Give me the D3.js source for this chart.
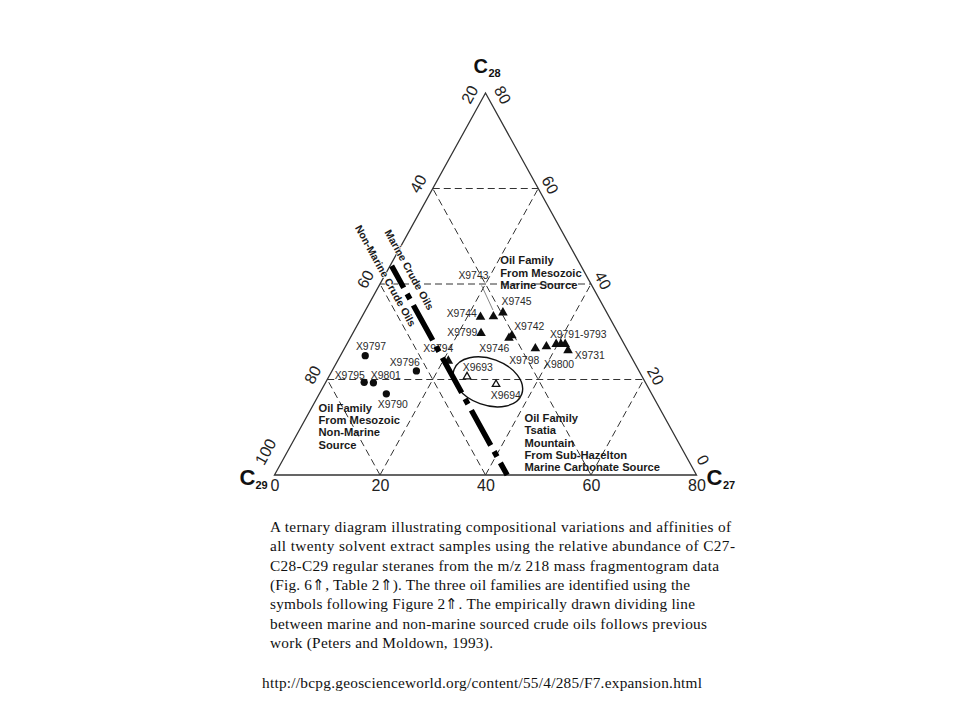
<!DOCTYPE html>
<html><head><meta charset="utf-8">
<script src="https://cdn.jsdelivr.net/npm/d3@7"></script>
<style>
html,body{margin:0;padding:0;background:#fff;}
svg{display:block;}
</style></head><body>
<svg id="chart" width="960" height="720"></svg>
<script>
// ---------------- data ----------------
const bottomTicks = [0, 20, 40, 60, 80];     // C27 %
const leftTicks   = [20, 40, 60, 80, 100];   // C29 %
const rightTicks  = [80, 60, 40, 20, 0];     // C28 %
const gridC27 = [20, 40, 60];
const gridC28 = [20, 40, 60];
const gridC29 = [40, 60, 80];

const sampleNames  = ["X9797","X9796","X9795","X9801","X9790",
                      "X9693","X9694",
                      "X9743","X9744","X9745","X9799","X9742","X9746","X9794",
                      "X9798","X9800","X9791","X9792","X9793","X9731"];
const sampleFamily = ["nonmarine","nonmarine","nonmarine","nonmarine","nonmarine",
                      "tsatia","tsatia",
                      "marine","marine","marine","marine","marine","marine","marine",
                      "marine","marine","marine","marine","marine","marine"];
const sampleC27 = [4.7, 16.0, 7.3, 9.1, 12.7,
                   26.2, 32.5,
                   24.9, 22.5, 26.3, 24.3, 30.4, 30.1, 21.0,
                   36.2, 38.1, 39.7, 40.6, 41.4, 42.6];
const sampleC28 = [25.0, 21.8, 19.4, 19.3, 17.0,
                   20.6, 19.0,
                   33.2, 33.1, 34.0, 29.7, 29.2, 28.7, 23.9,
                   26.5, 26.9, 27.4, 27.4, 27.4, 26.1];

const labelTexts  = ["X9797","X9796","X9795","X9801","X9790","X9693","X9694","X9743","X9744",
                     "X9745","X9799","X9742","X9746","X9794","X9798","X9800","X9791-9793","X9731"];
const labelSample = ["X9797","X9796","X9795","X9801","X9790","X9693","X9694","X9743","X9744",
                     "X9745","X9799","X9742","X9746","X9794","X9798","X9800","X9791","X9731"];

// dividing line between marine and non-marine crude oils (C27, C28)
const divC27 = [0.3, 44.1];
const divC28 = [43.8, 0];

// Tsatia ellipse centre (C27, C28)
const ellipseC27 = 30.7, ellipseC28 = 19.5;

const familyTitles = {
  marine: ["Oil Family", "From Mesozoic", "Marine Source"],
  nonmarine: ["Oil Family", "From Mesozoic", "Non-Marine", "Source"],
  tsatia: ["Oil Family", "Tsatia", "Mountain", "From Sub-Hazelton", "Marine Carbonate Source"]
};
const familyAnchorC27 = {marine: 20.3, nonmarine: 1.3, tsatia: 41.4};
const familyAnchorC28 = {marine: 45.0, nonmarine: 14.1, tsatia: 12.0};

const captionLines = [
  "A ternary diagram illustrating compositional variations and affinities of",
  "all twenty solvent extract samples using the relative abundance of C27-",
  "C28-C29 regular steranes from the m/z 218 mass fragmentogram data",
  "(Fig. 6\u21D1, Table 2\u21D1). The three oil families are identified using the",
  "symbols following Figure 2\u21D1. The empirically drawn dividing line",
  "between marine and non-marine sourced crude oils follows previous",
  "work (Peters and Moldown, 1993)."
];
const sourceUrl = "http://bcpg.geoscienceworld.org/content/55/4/285/F7.expansion.html";

// ---------------- layout ----------------
const SANS = "'Liberation Sans', Arial, Helvetica, sans-serif";
const SERIF = "'Liberation Serif', 'Times New Roman', Times, serif";
const svg = d3.select("#chart");
svg.append("rect").attr("width", 960).attr("height", 720).attr("fill", "#fff");

const L = [274.5, 475], R = [696.5, 475], A = [485.5, 93];
const frac = d3.scaleLinear().domain([0, 80]).range([0, 1]);
function proj(c27, c28) {
  const r = frac(c27), a = frac(c28);
  return [L[0] + r * (R[0] - L[0]) + a * (A[0] - L[0]), L[1] + a * (A[1] - L[1])];
}
const line = d3.line();

// grid
const gridSegs = [
  ...gridC27.map(v => [proj(v, 0), proj(v, 80 - v)]),
  ...gridC28.map(v => [proj(0, v), proj(80 - v, v)]),
  ...gridC29.map(v => [proj(100 - v, 0), proj(0, 100 - v)])
];
svg.append("g").selectAll("path").data(gridSegs).join("path")
  .attr("d", d => line(d)).attr("fill", "none")
  .attr("stroke", "#333").attr("stroke-width", 1).attr("stroke-dasharray", "7,4");

// outline
svg.append("path").attr("d", line([proj(0, 0), proj(80, 0), proj(0, 80)]) + "Z")
  .attr("fill", "none").attr("stroke", "#333").attr("stroke-width", 1.3);

// bottom axis
const baseScale = d3.scaleLinear().domain([0, 80]).range([L[0], R[0]]);
svg.append("g").attr("transform", `translate(0,${L[1]})`)
  .call(d3.axisBottom(baseScale).tickValues(bottomTicks).tickSize(0).tickPadding(5).tickFormat(d3.format("d")))
  .call(g => g.select(".domain").remove())
  .attr("font-family", SANS).attr("font-size", 16)
  .selectAll("text").attr("fill", "#222");

// side labels
const angL = Math.atan2(A[1] - L[1], A[0] - L[0]) * 180 / Math.PI;
const angR = Math.atan2(R[1] - A[1], R[0] - A[0]) * 180 / Math.PI;
const lenL = Math.hypot(A[0] - L[0], A[1] - L[1]);
const tL = [(A[0] - L[0]) / lenL, (A[1] - L[1]) / lenL], nL = [tL[1], -tL[0]];
const tR = [(A[0] - R[0]) / lenL, (A[1] - R[1]) / lenL], nR = [-tR[1], tR[0]];
function sideShift(i, n, ends) { return i === 0 ? ends[0] : (i === n - 1 ? ends[1] : ends[2]); }
svg.append("g").selectAll("text").data(leftTicks).join("text")
  .attr("transform", (v, i) => {
    const p = proj(0, 100 - v);
    const ts = sideShift(i, leftTicks.length, [-9, 16, -3]);
    const ns = sideShift(i, leftTicks.length, [13, 19, 15]);
    return `translate(${p[0] + ts * tL[0] + ns * nL[0]},${p[1] + ts * tL[1] + ns * nL[1]}) rotate(${angL})`;
  })
  .attr("text-anchor", "middle").attr("dominant-baseline", "central")
  .attr("font-family", SANS).attr("font-size", 16).attr("fill", "#222")
  .text(d => d);
svg.append("g").selectAll("text").data(rightTicks).join("text")
  .attr("transform", (v, i) => {
    const p = proj(80 - v, v);
    const ts = sideShift(i, rightTicks.length, [-10, 10, -2.6]);
    const ns = sideShift(i, rightTicks.length, [14, 13, 12]);
    return `translate(${p[0] + ts * tR[0] + ns * nR[0]},${p[1] + ts * tR[1] + ns * nR[1]}) rotate(${angR})`;
  })
  .attr("text-anchor", "middle").attr("dominant-baseline", "central")
  .attr("font-family", SANS).attr("font-size", 16).attr("fill", "#222")
  .text(d => d);

// corner labels
function corner(x, y, sub, fs, subfs, subdx, subdy) {
  const t = svg.append("text").attr("x", x).attr("y", y)
    .attr("font-family", SANS).attr("font-weight", "bold").attr("font-size", fs).attr("fill", "#111");
  t.append("tspan").text("C");
  t.append("tspan").attr("dx", subdx).attr("dy", subdy).attr("font-size", subfs).text(sub);
}
corner(A[0] - 12, A[1] - 20, "28", 20, 11, 0.5, 3.5);
corner(L[0] - 35, L[1] + 10, "29", 22, 11, 0, 3.5);
corner(R[0] + 10, R[1] + 10, "27", 22, 11, 0.5, 3.5);

// ellipse
const ec = proj(ellipseC27, ellipseC28);
svg.append("ellipse").attr("cx", 0).attr("cy", 0).attr("rx", 36).attr("ry", 23.2)
  .attr("transform", `translate(${ec[0]},${ec[1]}) rotate(20)`)
  .attr("fill", "none").attr("stroke", "#111").attr("stroke-width", 1.4);

// samples
const samples = sampleNames.map((n, i) => ({name: n, fam: sampleFamily[i], p: proj(sampleC27[i], sampleC28[i])}));
const byName = Object.fromEntries(samples.map(s => [s.name, s]));
const gS = svg.append("g");
gS.selectAll("path").data(samples).join("path")
  .attr("transform", d => `translate(${d.p[0]},${d.p[1]})`)
  .attr("d", d => d.fam === "nonmarine" ? d3.symbol(d3.symbolCircle, 42)()
                 : d.fam === "tsatia" ? d3.symbol(d3.symbolTriangle, 24)()
                 : d3.symbol(d3.symbolTriangle, 40)())
  .attr("fill", d => d.fam === "tsatia" ? "#fff" : "#0d0d0d")
  .attr("stroke", d => d.fam === "tsatia" ? "#111" : "none")
  .attr("stroke-width", 1.3);

// sample labels (offset of label left edge / vertical centre from its sample)
const labelOffsets = {
  X9797: [-9.3, -9.3], X9796: [-26.7, -8.5], X9795: [-29.5, -7.2], X9801: [-2.6, -7.7],
  X9790: [-8.6, 10.5], X9693: [-4.3, -9.3], X9694: [-5.3, 11.2], X9743: [-35, -40.8],
  X9744: [-33.8, -3.7], X9745: [-1.3, -11.5], X9799: [-33.7, -0.5], X9742: [2.3, -9],
  X9746: [-29.7, 10.3], X9794: [-25, -12.7], X9798: [-26.2, 11.9], X9800: [-2.4, 17.5],
  X9791: [-6.3, -10.1], X9731: [6.8, 5.6]
};
const labels = labelTexts.map((t, i) => {
  const s = byName[labelSample[i]], o = labelOffsets[labelSample[i]];
  return {text: t, x: s.p[0] + o[0], y: s.p[1] + o[1]};
});
// leader for X9743
const s43 = byName["X9743"];
svg.append("line")
  .attr("x1", s43.p[0] - 11.8).attr("y1", s43.p[1] - 31)
  .attr("x2", s43.p[0] - 0.5).attr("y2", s43.p[1] - 6.5)
  .attr("stroke", "#666").attr("stroke-width", 0.8);
svg.append("g").selectAll("text").data(labels).join("text")
  .attr("x", d => d.x).attr("y", d => d.y).attr("dominant-baseline", "central")
  .attr("font-family", SANS).attr("font-size", 10.4).attr("fill", "#2a2a2a")
  .text(d => d.text);

// family titles
Object.keys(familyTitles).forEach(k => {
  const p = proj(familyAnchorC27[k], familyAnchorC28[k]);
  svg.append("g").selectAll("text").data(familyTitles[k]).join("text")
    .attr("x", p[0]).attr("y", (d, i) => p[1] + i * 12.4).attr("dominant-baseline", "central")
    .attr("font-family", SANS).attr("font-weight", "bold").attr("font-size", 11.2).attr("fill", "#1a1a1a")
    .text(d => d);
});

// dividing line
const P0 = proj(divC27[0], divC28[0]), P1 = proj(divC27[1], divC28[1]);
svg.append("path").attr("d", line([P0, P1]))
  .attr("stroke", "#000").attr("stroke-width", 5.5).attr("fill", "none")
  .attr("stroke-dasharray", "40,7,6,7").attr("stroke-dashoffset", 15);
const dlen = Math.hypot(P1[0] - P0[0], P1[1] - P0[1]);
const u = [(P1[0] - P0[0]) / dlen, (P1[1] - P0[1]) / dlen], nrm = [u[1], -u[0]];
const angD = Math.atan2(u[1], u[0]) * 180 / Math.PI;
[["Marine Crude Oils", 12, 13.9], ["Non-Marine Crude Oils", 5.7, -9.8]].forEach(([t, al, nn]) => {
  const x = P0[0] + al * u[0] + nn * nrm[0], y = P0[1] + al * u[1] + nn * nrm[1];
  svg.append("text").attr("transform", `translate(${x},${y}) rotate(${angD})`)
    .attr("text-anchor", "middle").attr("dominant-baseline", "central")
    .attr("font-family", SANS).attr("font-weight", "bold").attr("font-size", 10.5).attr("fill", "#1a1a1a")
    .attr("stroke", "#fff").attr("stroke-width", 1.2).attr("paint-order", "stroke")
    .text(t);
});

// caption
const capWidths = [461, 465, 449, 420, 425, 437, 223];
svg.append("g").selectAll("text").data(captionLines).join("text")
  .attr("x", 270).attr("y", (d, i) => 532 + i * 19.3)
  .attr("font-family", SERIF).attr("font-size", 15.3).attr("fill", "#111")
  .attr("textLength", (d, i) => capWidths[i]).attr("lengthAdjust", "spacing")
  .text(d => d);
svg.append("text").attr("x", 262).attr("y", 688)
  .attr("font-family", SERIF).attr("font-size", 15.3).attr("fill", "#111")
  .attr("textLength", 440).attr("lengthAdjust", "spacing")
  .text(sourceUrl);
</script>
</body></html>
